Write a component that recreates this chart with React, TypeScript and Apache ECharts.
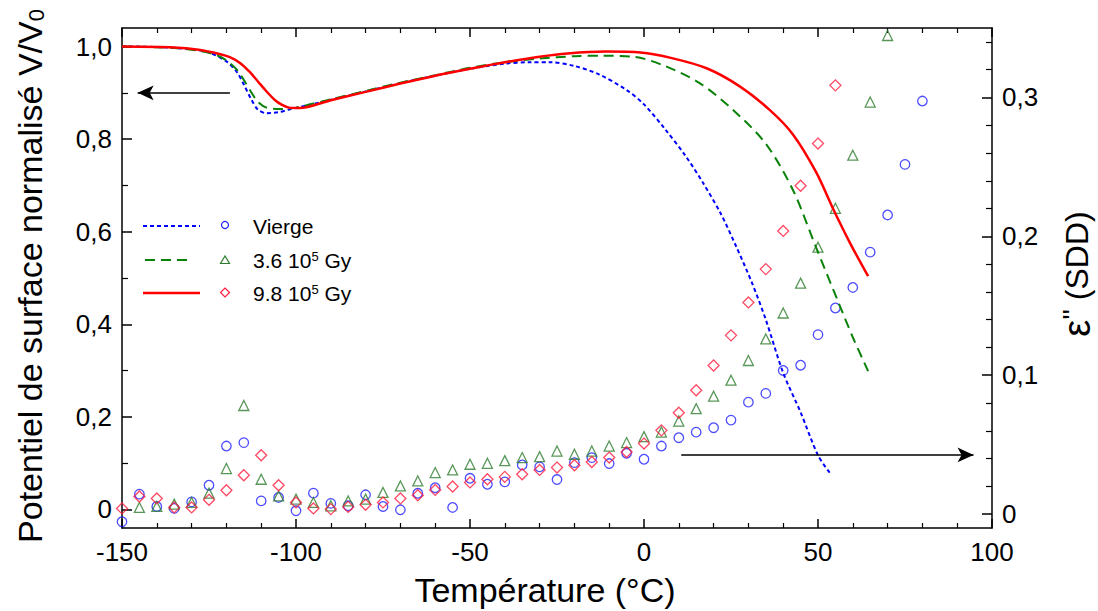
import React, { useEffect, useRef } from "react";
import * as echarts from "echarts";

const FONT = "Liberation Sans, Arial, sans-serif";

// x-axis (Température, °C)
const X_MIN = -150;
const X_MAX = 100;
const X_STEP = 50;

// left axis (V/V0)
const LEFT_MIN = -0.04;
const LEFT_MAX = 1.04;
const LEFT_LABELS = [0, 0.2, 0.4, 0.6, 0.8, 1.0];
const LEFT_MINOR = [0.1, 0.3, 0.5, 0.7, 0.9];

// right axis (ε'')
const RIGHT_MIN = -0.01;
const RIGHT_MAX = 0.35;
const RIGHT_LABELS = [0, 0.1, 0.2, 0.3];
const RIGHT_MINOR = [0.02, 0.04, 0.06, 0.08, 0.12, 0.14, 0.16, 0.18, 0.22, 0.24, 0.26, 0.28, 0.32, 0.34];

// surface potential curves (left axis)
const vViergeLine: [number, number][] = [
  [-150, 1.0], [-140, 0.999], [-130, 0.994], [-125, 0.987], [-120, 0.968], [-117, 0.945],
  [-115, 0.918], [-113, 0.888], [-111, 0.864], [-108.5, 0.856], [-105, 0.858], [-102, 0.864],
  [-95, 0.876], [-90, 0.885], [-80, 0.903], [-70, 0.921], [-60, 0.937], [-50, 0.952],
  [-40, 0.963], [-33, 0.966], [-27, 0.966], [-20, 0.958], [-13, 0.94], [-5, 0.906],
  [0, 0.875], [6, 0.822], [12, 0.763], [17, 0.705], [22, 0.64], [26.5, 0.568], [31, 0.49],
  [35, 0.41], [40, 0.295], [45, 0.21], [50, 0.117], [53.5, 0.078],
];
const v36Line: [number, number][] = [
  [-150, 1.0], [-135, 0.997], [-128, 0.991], [-123, 0.982], [-120, 0.97], [-117, 0.95],
  [-115, 0.928], [-113, 0.903], [-111, 0.881], [-108.5, 0.868], [-105, 0.865], [-102, 0.866],
  [-100, 0.868], [-90, 0.886], [-80, 0.904], [-70, 0.922], [-60, 0.938], [-50, 0.954],
  [-40, 0.966], [-30, 0.974], [-20, 0.979], [-12, 0.98], [-3, 0.978], [6, 0.958], [16, 0.921],
  [25.6, 0.863], [35, 0.79], [42.8, 0.69], [49.5, 0.565], [56, 0.445], [60, 0.372], [64.4, 0.299],
];
const v98Line: [number, number][] = [
  [-150, 1.0], [-135, 0.998], [-128, 0.993], [-122, 0.984], [-119, 0.977], [-116, 0.964],
  [-113.3, 0.945], [-111, 0.925], [-108.7, 0.905], [-106, 0.884], [-104, 0.874], [-102, 0.868],
  [-99, 0.867], [-90, 0.884], [-80, 0.902], [-70, 0.92], [-60, 0.937], [-50, 0.952],
  [-40, 0.966], [-30, 0.978], [-22, 0.985], [-11, 0.989], [-1, 0.987], [8, 0.975], [18, 0.953],
  [27.5, 0.914], [36.1, 0.863], [42.8, 0.81], [49.5, 0.728], [54.3, 0.65], [59.1, 0.577], [64.4, 0.504],
];

// ε'' points (right axis)
const epsVierge: [number, number][] = [
  [-150, -0.0055], [-145, 0.0144], [-140, 0.0055], [-135, 0.0041], [-130, 0.0088], [-125, 0.0208],
  [-120, 0.049], [-115, 0.0515], [-110, 0.0095], [-105, 0.012], [-100, 0.0024], [-95, 0.0151],
  [-90, 0.0077], [-85, 0.006], [-80, 0.0139], [-75, 0.0055], [-70, 0.0031], [-65, 0.015],
  [-60, 0.019], [-55, 0.0048], [-50, 0.0258], [-45, 0.0215], [-40, 0.0232], [-35, 0.0354],
  [-30, 0.034], [-25, 0.0249], [-20, 0.0371], [-15, 0.0407], [-10, 0.0364], [-5, 0.0438],
  [0, 0.0395], [5, 0.049], [10, 0.055], [15, 0.059], [20, 0.0622], [25, 0.0677], [30, 0.0806],
  [35, 0.0869], [40, 0.1034], [45, 0.1072], [50, 0.1292], [55, 0.1484], [60, 0.1632],
  [65, 0.1886], [70, 0.2154], [75, 0.2518], [80, 0.2974],
];
const eps36: [number, number][] = [
  [-145, 0.0048], [-140, 0.0055], [-135, 0.0072], [-130, 0.0084], [-125, 0.0151], [-120, 0.0328],
  [-115, 0.0782], [-110, 0.0251], [-105, 0.0131], [-100, 0.0108], [-95, 0.0084], [-90, 0.006],
  [-85, 0.0095], [-80, 0.0108], [-75, 0.0156], [-70, 0.0203], [-65, 0.0239], [-60, 0.0299],
  [-55, 0.0318], [-50, 0.0359], [-45, 0.0366], [-40, 0.0385], [-35, 0.0407], [-30, 0.0414],
  [-25, 0.0454], [-20, 0.0431], [-15, 0.0454], [-10, 0.049], [-5, 0.0515], [0, 0.0558],
  [5, 0.0591], [10, 0.067], [15, 0.0759], [20, 0.0849], [25, 0.0964], [30, 0.1106], [35, 0.1261],
  [40, 0.1448], [45, 0.1663], [50, 0.1922], [55, 0.2202], [60, 0.2584], [65, 0.2967], [70, 0.3446],
];
const eps98: [number, number][] = [
  [-150, 0.0041], [-145, 0.0127], [-140, 0.0113], [-135, 0.0048], [-130, 0.0048], [-125, 0.0103],
  [-120, 0.0172], [-115, 0.028], [-110, 0.0424], [-105, 0.0208], [-100, 0.0084], [-95, 0.0041],
  [-90, 0.0036], [-85, 0.0052], [-80, 0.0067], [-75, 0.0084], [-70, 0.0113], [-65, 0.0136],
  [-60, 0.0174], [-55, 0.0199], [-50, 0.0228], [-45, 0.0251], [-40, 0.0268], [-35, 0.0287],
  [-30, 0.0318], [-25, 0.0335], [-20, 0.0352], [-15, 0.0375], [-10, 0.0407], [-5, 0.0447],
  [0, 0.0508], [5, 0.0603], [10, 0.073], [15, 0.0892], [20, 0.107], [25, 0.1287], [30, 0.1524],
  [35, 0.1764], [40, 0.2039], [45, 0.2364], [50, 0.2668], [55, 0.3087],
];

// arrows (data coordinates)
const leftArrow: [number, number][] = [[-119, 0.9], [-145.5, 0.9]];
const rightArrow: [number, number][] = [[10.7, 0.0426], [94.7, 0.0426]];

const LEGEND_NAMES = ["Vierge", "3.6 10{sup|5} Gy", "9.8 10{sup|5} Gy"];

const BLUE = "#0000ff";
const GREEN = "#0a820a";
const RED = "#ff0000";
const M_BLUE = "#1f1fff";
const M_GREEN = "#2e7d2e";
const M_RED = "#ff1a3c";

const fmtComma = (v: number) => (Math.abs(v) < 1e-9 ? "0" : v.toFixed(1).replace(".", ","));

const lineBlack = { color: "#000", width: 1.5 };

function App() {
  const ref = useRef<HTMLDivElement>(null);
  useEffect(() => {
    if (!ref.current) return;
    const chart = echarts.init(ref.current, null, { renderer: "svg" });

    const xCommon = {
      type: "value",
      min: X_MIN,
      max: X_MAX,
      interval: X_STEP,
      axisLine: { show: true, onZero: false, lineStyle: lineBlack },
      axisTick: { show: true, inside: true, length: 9, lineStyle: lineBlack },
      minorTick: { show: true, splitNumber: 5, length: 5, lineStyle: { color: "#000", width: 1.2 } },
      splitLine: { show: false },
      minorSplitLine: { show: false },
    };

    const option: any = {
      animation: false,
      backgroundColor: "#fff",
      grid: { left: 122, top: 28, width: 870, height: 500, containLabel: false },
      xAxis: [
        {
          ...xCommon,
          position: "bottom",
          axisLabel: {
            show: true,
            fontSize: 26,
            color: "#000",
            fontFamily: FONT,
            margin: 11,
            showMinLabel: true,
            showMaxLabel: true,
          },
        },
        { ...xCommon, position: "top", axisLabel: { show: false } },
      ],
      yAxis: [
        {
          type: "value",
          min: LEFT_MIN,
          max: LEFT_MAX,
          position: "left",
          axisLine: { show: true, onZero: false, lineStyle: lineBlack },
          axisTick: { show: true, inside: true, length: 10, customValues: LEFT_LABELS, lineStyle: lineBlack },
          axisLabel: {
            show: true,
            customValues: LEFT_LABELS,
            formatter: fmtComma,
            fontSize: 26,
            color: "#000",
            fontFamily: FONT,
            margin: 10,
          },
          splitLine: { show: false },
        },
        {
          type: "value",
          min: RIGHT_MIN,
          max: RIGHT_MAX,
          position: "right",
          axisLine: { show: true, onZero: false, lineStyle: lineBlack },
          axisTick: { show: true, inside: true, length: 10, customValues: RIGHT_LABELS, lineStyle: lineBlack },
          axisLabel: {
            show: true,
            customValues: RIGHT_LABELS,
            formatter: fmtComma,
            fontSize: 26,
            color: "#000",
            fontFamily: FONT,
            margin: 10,
          },
          splitLine: { show: false },
        },
        {
          type: "value",
          min: LEFT_MIN,
          max: LEFT_MAX,
          position: "left",
          axisLine: { show: false, onZero: false },
          axisTick: { show: true, inside: true, length: 6, customValues: LEFT_MINOR, lineStyle: { color: "#000", width: 1.2 } },
          axisLabel: { show: false },
          splitLine: { show: false },
        },
        {
          type: "value",
          min: RIGHT_MIN,
          max: RIGHT_MAX,
          position: "right",
          axisLine: { show: false, onZero: false },
          axisTick: { show: true, inside: true, length: 6, customValues: RIGHT_MINOR, lineStyle: { color: "#000", width: 1.2 } },
          axisLabel: { show: false },
          splitLine: { show: false },
        },
      ],
      series: [
        {
          name: "Vierge",
          type: "line",
          xAxisIndex: 0,
          yAxisIndex: 0,
          data: vViergeLine,
          symbol: "none",
          smooth: 0.3,
          lineStyle: { color: BLUE, width: 2, type: [4, 3] },
          z: 3,
          markLine: {
            silent: true,
            symbol: ["none", "arrow"],
            symbolSize: [11, 16],
            label: { show: false },
            lineStyle: { color: "#000", width: 1.5, type: "solid" },
            data: [[{ coord: leftArrow[0] }, { coord: leftArrow[1] }]],
          },
        },
        {
          name: "3.6 10^5 Gy",
          type: "line",
          yAxisIndex: 0,
          data: v36Line,
          symbol: "none",
          smooth: 0.3,
          lineStyle: { color: GREEN, width: 2, type: [10, 6] },
          z: 3,
        },
        {
          name: "9.8 10^5 Gy",
          type: "line",
          yAxisIndex: 0,
          data: v98Line,
          symbol: "none",
          smooth: 0.3,
          lineStyle: { color: RED, width: 2.5 },
          z: 3,
        },
        {
          name: "ε'' Vierge",
          type: "scatter",
          yAxisIndex: 1,
          data: epsVierge,
          symbol: "circle",
          symbolSize: 9.5,
          itemStyle: { color: "rgba(255,255,255,0)", borderColor: M_BLUE, borderWidth: 1.3 },
          markLine: {
            silent: true,
            symbol: ["none", "arrow"],
            symbolSize: [11, 16],
            label: { show: false },
            lineStyle: { color: "#000", width: 1.5, type: "solid" },
            data: [[{ coord: rightArrow[0] }, { coord: rightArrow[1] }]],
          },
        },
        {
          name: "ε'' 3.6",
          type: "scatter",
          yAxisIndex: 1,
          data: eps36,
          symbol: "triangle",
          symbolSize: 10,
          itemStyle: { color: "rgba(255,255,255,0)", borderColor: M_GREEN, borderWidth: 1.3 },
        },
        {
          name: "ε'' 9.8",
          type: "scatter",
          yAxisIndex: 1,
          data: eps98,
          symbol: "diamond",
          symbolSize: 11,
          itemStyle: { color: "rgba(255,255,255,0)", borderColor: M_RED, borderWidth: 1.3 },
        },
      ],
      graphic: [
        // axis titles
        {
          type: "text",
          x: 30,
          y: 276,
          rotation: Math.PI / 2,
          style: {
            text: "Potentiel de surface normalisé V/V{sub|0}",
            fontSize: 34,
            fontFamily: FONT,
            fill: "#000",
            align: "center",
            verticalAlign: "middle",
            rich: { sub: { fontSize: 22, fontFamily: FONT, fill: "#000", verticalAlign: "bottom", lineHeight: 30 } },
          },
        },
        {
          type: "text",
          x: 545,
          y: 590,
          style: {
            text: "Température (°C)",
            fontSize: 34,
            fontFamily: FONT,
            fill: "#000",
            align: "center",
            verticalAlign: "middle",
          },
        },
        {
          type: "text",
          x: 1077,
          y: 274,
          rotation: Math.PI / 2,
          style: {
            text: "{eps|ε}{pp|''} (SDD)",
            fontSize: 32,
            fontFamily: FONT,
            fill: "#000",
            align: "center",
            verticalAlign: "middle",
            rich: {
              eps: { fontSize: 38, fontFamily: FONT, fill: "#000" },
              pp: { fontSize: 28, fontFamily: FONT, fill: "#000", verticalAlign: "top" },
            },
          },
        },
        // legend
        { type: "line", shape: { x1: 143, y1: 226, x2: 200, y2: 226 }, style: { stroke: BLUE, lineWidth: 2, lineDash: [4, 3] } },
        { type: "line", shape: { x1: 145, y1: 260, x2: 192, y2: 260 }, style: { stroke: GREEN, lineWidth: 2, lineDash: [10, 6] } },
        { type: "line", shape: { x1: 143, y1: 293, x2: 200, y2: 293 }, style: { stroke: RED, lineWidth: 2.5 } },
        { type: "circle", shape: { cx: 225, cy: 225, r: 3.5 }, style: { fill: "none", stroke: M_BLUE, lineWidth: 1.2 } },
        {
          type: "polygon",
          shape: { points: [[225, 256], [220.5, 263.5], [229.5, 263.5]] },
          style: { fill: "none", stroke: M_GREEN, lineWidth: 1.2 },
        },
        {
          type: "polygon",
          shape: { points: [[225, 288], [229.5, 292.5], [225, 297], [220.5, 292.5]] },
          style: { fill: "none", stroke: M_RED, lineWidth: 1.2 },
        },
        ...LEGEND_NAMES.map((t, i) => ({
          type: "text",
          x: 253,
          y: [226, 260, 293][i],
          style: {
            text: t,
            fontSize: 21,
            fontFamily: FONT,
            fill: "#000",
            align: "left",
            verticalAlign: "middle",
            rich: { sup: { fontSize: 13, fontFamily: FONT, fill: "#000", verticalAlign: "top" } },
          },
        })),
      ],
    };

    chart.setOption(option);
    return () => chart.dispose();
  }, []);

  return (
    <div
      ref={ref}
      style={{ position: "fixed", left: 0, top: 0, width: 1098, height: 611, background: "#fff" }}
    />
  );
}

export default App;
